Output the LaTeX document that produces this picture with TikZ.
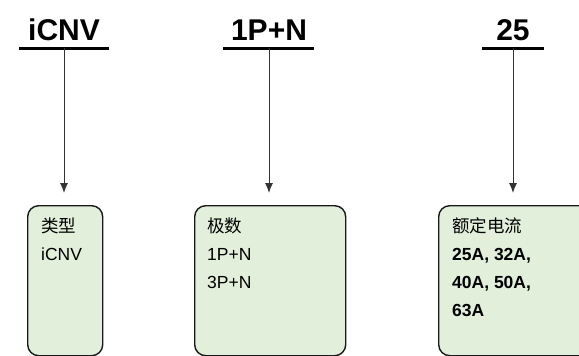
\documentclass[tikz,border=0pt]{standalone}
\usepackage{fontspec}
\setmainfont{Liberation Sans}
\newfontfamily\cjk{Noto Sans CJK SC}
\usetikzlibrary{arrows.meta}
\definecolor{boxgreen}{HTML}{E2EFDA}
\tikzset{
  title/.style={font=\bfseries\fontsize{30}{36}\selectfont, anchor=base, inner sep=0pt},
  bar/.style={line width=3pt},
  feed/.style={line width=1pt, draw=black!80, -{Latex[length=10pt,width=8pt]}, shorten >=12pt},
  fieldbox/.style={draw=black!90, line width=1.4pt, fill=boxgreen, rounded corners=11pt, anchor=north west, inner sep=0pt},
  fieldtext/.style={font=\fontsize{17.5}{28}\selectfont, align=left, anchor=base west, inner sep=0pt}
}
\begin{document}
\begin{tikzpicture}[x=1pt,y=-1pt]
\useasboundingbox (0,0) rectangle (579,356);
% boxes
\node[fieldbox, minimum width=75pt, minimum height=150pt] (b1) at (27,205) {};
\node[fieldbox, minimum width=151pt, minimum height=150pt] (b2) at (194,205) {};
\node[fieldbox, minimum width=152pt, minimum height=150pt] (b3) at (438,205) {};
% texts, placed at the baseline of their last line
\node[fieldtext] (f1) at ([xshift=14pt,yshift=-55pt]b1.north west) {{\cjk 类型}\\iCNV};
\node[fieldtext] (f2) at ([xshift=13pt,yshift=-83pt]b2.north west) {{\cjk 极数}\\1P+N\\3P+N};
\node[fieldtext] (f3) at ([xshift=14pt,yshift=-111pt]b3.north west) {{\cjk 额定电流}\\\textbf{25A, 32A,}\\\textbf{40A, 50A,}\\\textbf{63A}};
% titles, bars and arrows
 \foreach \n/\xt/\ul/\ur/\ttl in {1/64/19/109/iCNV, 2/269/223/314/1P+N, 3/513/482/544/25} {
    \node[title] (t\n) at (\xt,40) {\ttl};
    \coordinate (u\n) at (\xt,48);
    \draw[bar] (\ul,48) -- (\ur,48);
    \draw[feed] (u\n) -- (u\n |- b\n.north);
 }
\end{tikzpicture}
\end{document}
